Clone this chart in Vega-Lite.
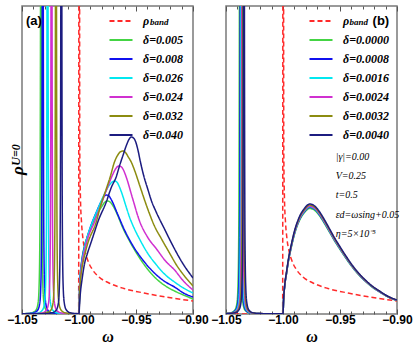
{
"$schema":"https://vega.github.io/schema/vega-lite/v6.json",
"padding":{"left":6,"top":4,"right":0,"bottom":0},
"bounds":"flush",
"spacing":33,
"config":{"view":{"stroke":"#7a7a7a","strokeWidth":1.5},"background":"white"},
"datasets":{
"la":[{"w":-1.0465,"y":293,"t":"(a)"}],
"lb":[{"w":-0.9214,"y":293,"t":"(b)"}],
"sa":[{"w":-0.9378,"y":292,"t":"band"}],
"sb":[{"w":-0.9416,"y":292,"t":"band"}],
"ua":[{"w":-1.0553,"y":159,"t":"U=0"}],
"tb":[{"w":-0.9538,"y":157,"t":"|γ|=0.00"},{"w":-0.9538,"y":138,"t":"V=0.25"},{"w":-0.9538,"y":119,"t":"t=0.5"},{"w":-0.9538,"y":99,"t":"εd=ωsing+0.05"},{"w":-0.9538,"y":80,"t":"η=5×10⁻⁵"}],
"a":[
{"s":"ρband","w":-1.05,"y":0},{"s":"ρband","w":-1.0003,"y":0},{"s":"ρband","w":-0.9999,"y":1000},{"s":"ρband","w":-0.9993,"y":160},{"s":"ρband","w":-0.9987,"y":115},{"s":"ρband","w":-0.9978,"y":92},{"s":"ρband","w":-0.9965,"y":75},{"s":"ρband","w":-0.9947,"y":63},{"s":"ρband","w":-0.9921,"y":53},{"s":"ρband","w":-0.9886,"y":45},{"s":"ρband","w":-0.9825,"y":37},{"s":"ρband","w":-0.9737,"y":31},{"s":"ρband","w":-0.9605,"y":25.5},{"s":"ρband","w":-0.943,"y":21},{"s":"ρband","w":-0.9211,"y":16.5},{"s":"ρband","w":-0.9,"y":13},
{"s":"δ=0.005","w":-1.05,"y":0.2},{"s":"δ=0.005","w":-1.0473,"y":0.4},{"s":"δ=0.005","w":-1.0412,"y":1.2},{"s":"δ=0.005","w":-1.0377,"y":4},{"s":"δ=0.005","w":-1.0359,"y":11},{"s":"δ=0.005","w":-1.0351,"y":25},{"s":"δ=0.005","w":-1.0344,"y":70},{"s":"δ=0.005","w":-1.0338,"y":280},{"s":"δ=0.005","w":-1.0333,"y":1000},{"s":"δ=0.005","w":-1.0328,"y":280},{"s":"δ=0.005","w":-1.0323,"y":70},{"s":"δ=0.005","w":-1.0316,"y":25},{"s":"δ=0.005","w":-1.0307,"y":11},{"s":"δ=0.005","w":-1.0289,"y":4},{"s":"δ=0.005","w":-1.0254,"y":1.2},{"s":"δ=0.005","w":-1.0193,"y":0.4},{"s":"δ=0.005","w":-1.0,"y":0.3},
{"s":"δ=0.005","w":-0.9994,"y":30},{"s":"δ=0.005","w":-0.9987,"y":42},{"s":"δ=0.005","w":-0.9974,"y":55},{"s":"δ=0.005","w":-0.9952,"y":68},{"s":"δ=0.005","w":-0.9925,"y":78},{"s":"δ=0.005","w":-0.989,"y":88},{"s":"δ=0.005","w":-0.9847,"y":99},{"s":"δ=0.005","w":-0.9803,"y":107},{"s":"δ=0.005","w":-0.9776,"y":111.5},{"s":"δ=0.005","w":-0.975,"y":113},{"s":"δ=0.005","w":-0.9728,"y":112},{"s":"δ=0.005","w":-0.9706,"y":109},{"s":"δ=0.005","w":-0.9662,"y":99},{"s":"δ=0.005","w":-0.9619,"y":87},{"s":"δ=0.005","w":-0.9557,"y":73},{"s":"δ=0.005","w":-0.9496,"y":61},{"s":"δ=0.005","w":-0.9426,"y":49},{"s":"δ=0.005","w":-0.932,"y":35},{"s":"δ=0.005","w":-0.9241,"y":28},{"s":"δ=0.005","w":-0.9162,"y":23},{"s":"δ=0.005","w":-0.9084,"y":19},{"s":"δ=0.005","w":-0.9,"y":15},
{"s":"δ=0.008","w":-1.05,"y":0.2},{"s":"δ=0.008","w":-1.0458,"y":0.4},{"s":"δ=0.008","w":-1.0397,"y":1.2},{"s":"δ=0.008","w":-1.0362,"y":4},{"s":"δ=0.008","w":-1.0344,"y":11},{"s":"δ=0.008","w":-1.0336,"y":25},{"s":"δ=0.008","w":-1.0329,"y":70},{"s":"δ=0.008","w":-1.0323,"y":280},{"s":"δ=0.008","w":-1.0318,"y":1000},{"s":"δ=0.008","w":-1.0313,"y":280},{"s":"δ=0.008","w":-1.0308,"y":70},{"s":"δ=0.008","w":-1.0301,"y":25},{"s":"δ=0.008","w":-1.0292,"y":11},{"s":"δ=0.008","w":-1.0274,"y":4},{"s":"δ=0.008","w":-1.0239,"y":1.2},{"s":"δ=0.008","w":-1.0178,"y":0.4},{"s":"δ=0.008","w":-1.0,"y":0.3},
{"s":"δ=0.008","w":-0.9994,"y":29},{"s":"δ=0.008","w":-0.9987,"y":41},{"s":"δ=0.008","w":-0.9974,"y":54},{"s":"δ=0.008","w":-0.9952,"y":67},{"s":"δ=0.008","w":-0.9925,"y":78},{"s":"δ=0.008","w":-0.989,"y":90},{"s":"δ=0.008","w":-0.9847,"y":102},{"s":"δ=0.008","w":-0.9803,"y":113},{"s":"δ=0.008","w":-0.9781,"y":117.5},{"s":"δ=0.008","w":-0.9759,"y":119},{"s":"δ=0.008","w":-0.9737,"y":118},{"s":"δ=0.008","w":-0.9715,"y":114},{"s":"δ=0.008","w":-0.9662,"y":100},{"s":"δ=0.008","w":-0.9601,"y":84},{"s":"δ=0.008","w":-0.9531,"y":69},{"s":"δ=0.008","w":-0.9426,"y":52},{"s":"δ=0.008","w":-0.932,"y":39},{"s":"δ=0.008","w":-0.9241,"y":32},{"s":"δ=0.008","w":-0.9162,"y":27},{"s":"δ=0.008","w":-0.9084,"y":21},{"s":"δ=0.008","w":-0.9,"y":17},
{"s":"δ=0.026","w":-1.05,"y":0.2},{"s":"δ=0.026","w":-1.0416,"y":0.4},{"s":"δ=0.026","w":-1.0355,"y":1.2},{"s":"δ=0.026","w":-1.032,"y":4},{"s":"δ=0.026","w":-1.0302,"y":11},{"s":"δ=0.026","w":-1.0294,"y":25},{"s":"δ=0.026","w":-1.0287,"y":70},{"s":"δ=0.026","w":-1.0281,"y":280},{"s":"δ=0.026","w":-1.0276,"y":1000},{"s":"δ=0.026","w":-1.0271,"y":280},{"s":"δ=0.026","w":-1.0266,"y":70},{"s":"δ=0.026","w":-1.0259,"y":25},{"s":"δ=0.026","w":-1.025,"y":11},{"s":"δ=0.026","w":-1.0232,"y":4},{"s":"δ=0.026","w":-1.0197,"y":1.2},{"s":"δ=0.026","w":-1.0136,"y":0.4},{"s":"δ=0.026","w":-1.0,"y":0.3},
{"s":"δ=0.026","w":-0.9994,"y":27},{"s":"δ=0.026","w":-0.9987,"y":39},{"s":"δ=0.026","w":-0.9974,"y":52},{"s":"δ=0.026","w":-0.9952,"y":66},{"s":"δ=0.026","w":-0.9925,"y":78},{"s":"δ=0.026","w":-0.9882,"y":92},{"s":"δ=0.026","w":-0.9838,"y":104},{"s":"δ=0.026","w":-0.9785,"y":118},{"s":"δ=0.026","w":-0.9733,"y":129},{"s":"δ=0.026","w":-0.9711,"y":131.8},{"s":"δ=0.026","w":-0.9689,"y":133},{"s":"δ=0.026","w":-0.9667,"y":131.8},{"s":"δ=0.026","w":-0.9645,"y":127},{"s":"δ=0.026","w":-0.9619,"y":119},{"s":"δ=0.026","w":-0.9583,"y":106},{"s":"δ=0.026","w":-0.9557,"y":97},{"s":"δ=0.026","w":-0.9513,"y":85},{"s":"δ=0.026","w":-0.9469,"y":75},{"s":"δ=0.026","w":-0.9399,"y":61},{"s":"δ=0.026","w":-0.932,"y":49},{"s":"δ=0.026","w":-0.9241,"y":39},{"s":"δ=0.026","w":-0.9162,"y":32},{"s":"δ=0.026","w":-0.9084,"y":26},{"s":"δ=0.026","w":-0.9,"y":21},
{"s":"δ=0.024","w":-1.05,"y":0.2},{"s":"δ=0.024","w":-1.0381,"y":0.4},{"s":"δ=0.024","w":-1.032,"y":1.2},{"s":"δ=0.024","w":-1.0285,"y":4},{"s":"δ=0.024","w":-1.0267,"y":11},{"s":"δ=0.024","w":-1.0259,"y":25},{"s":"δ=0.024","w":-1.0252,"y":70},{"s":"δ=0.024","w":-1.0246,"y":280},{"s":"δ=0.024","w":-1.0241,"y":1000},{"s":"δ=0.024","w":-1.0236,"y":280},{"s":"δ=0.024","w":-1.0231,"y":70},{"s":"δ=0.024","w":-1.0224,"y":25},{"s":"δ=0.024","w":-1.0215,"y":11},{"s":"δ=0.024","w":-1.0197,"y":4},{"s":"δ=0.024","w":-1.0162,"y":1.2},{"s":"δ=0.024","w":-1.0101,"y":0.4},{"s":"δ=0.024","w":-1.0,"y":0.3},
{"s":"δ=0.024","w":-0.9994,"y":25},{"s":"δ=0.024","w":-0.9987,"y":37},{"s":"δ=0.024","w":-0.9974,"y":50},{"s":"δ=0.024","w":-0.9952,"y":63},{"s":"δ=0.024","w":-0.9925,"y":75},{"s":"δ=0.024","w":-0.9864,"y":92},{"s":"δ=0.024","w":-0.9811,"y":108},{"s":"δ=0.024","w":-0.9759,"y":124},{"s":"δ=0.024","w":-0.9706,"y":139},{"s":"δ=0.024","w":-0.968,"y":145},{"s":"δ=0.024","w":-0.9649,"y":148},{"s":"δ=0.024","w":-0.9627,"y":147},{"s":"δ=0.024","w":-0.961,"y":144},{"s":"δ=0.024","w":-0.9583,"y":136},{"s":"δ=0.024","w":-0.9531,"y":116},{"s":"δ=0.024","w":-0.9469,"y":93},{"s":"δ=0.024","w":-0.9399,"y":77},{"s":"δ=0.024","w":-0.932,"y":65},{"s":"δ=0.024","w":-0.9241,"y":53},{"s":"δ=0.024","w":-0.9162,"y":44},{"s":"δ=0.024","w":-0.9084,"y":33},{"s":"δ=0.024","w":-0.9,"y":24},
{"s":"δ=0.032","w":-1.05,"y":0.2},{"s":"δ=0.032","w":-1.0342,"y":0.4},{"s":"δ=0.032","w":-1.0281,"y":1.2},{"s":"δ=0.032","w":-1.0246,"y":4},{"s":"δ=0.032","w":-1.0228,"y":11},{"s":"δ=0.032","w":-1.022,"y":25},{"s":"δ=0.032","w":-1.0213,"y":70},{"s":"δ=0.032","w":-1.0207,"y":280},{"s":"δ=0.032","w":-1.0202,"y":1000},{"s":"δ=0.032","w":-1.0197,"y":280},{"s":"δ=0.032","w":-1.0192,"y":70},{"s":"δ=0.032","w":-1.0185,"y":25},{"s":"δ=0.032","w":-1.0176,"y":11},{"s":"δ=0.032","w":-1.0158,"y":4},{"s":"δ=0.032","w":-1.0123,"y":1.2},{"s":"δ=0.032","w":-1.0062,"y":0.4},{"s":"δ=0.032","w":-1.0,"y":0.3},
{"s":"δ=0.032","w":-0.9994,"y":22},{"s":"δ=0.032","w":-0.9987,"y":34},{"s":"δ=0.032","w":-0.9974,"y":46},{"s":"δ=0.032","w":-0.9952,"y":58},{"s":"δ=0.032","w":-0.9925,"y":70},{"s":"δ=0.032","w":-0.9849,"y":92},{"s":"δ=0.032","w":-0.9811,"y":108},{"s":"δ=0.032","w":-0.9761,"y":125},{"s":"δ=0.032","w":-0.9724,"y":138},{"s":"δ=0.032","w":-0.9689,"y":152},{"s":"δ=0.032","w":-0.9654,"y":160},{"s":"δ=0.032","w":-0.9636,"y":162.3},{"s":"δ=0.032","w":-0.9614,"y":163},{"s":"δ=0.032","w":-0.9592,"y":161.5},{"s":"δ=0.032","w":-0.957,"y":157.5},{"s":"δ=0.032","w":-0.9542,"y":152},{"s":"δ=0.032","w":-0.9504,"y":141},{"s":"δ=0.032","w":-0.9469,"y":129},{"s":"δ=0.032","w":-0.9397,"y":105},{"s":"δ=0.032","w":-0.9338,"y":88},{"s":"δ=0.032","w":-0.9276,"y":75},{"s":"δ=0.032","w":-0.9206,"y":61},{"s":"δ=0.032","w":-0.9145,"y":49},{"s":"δ=0.032","w":-0.9075,"y":38},{"s":"δ=0.032","w":-0.9,"y":28},
{"s":"δ=0.040","w":-1.05,"y":0.2},{"s":"δ=0.040","w":-1.0295,"y":0.4},{"s":"δ=0.040","w":-1.0234,"y":1.2},{"s":"δ=0.040","w":-1.0199,"y":4},{"s":"δ=0.040","w":-1.0181,"y":11},{"s":"δ=0.040","w":-1.0173,"y":25},{"s":"δ=0.040","w":-1.0166,"y":70},{"s":"δ=0.040","w":-1.016,"y":280},{"s":"δ=0.040","w":-1.0155,"y":1000},{"s":"δ=0.040","w":-1.015,"y":280},{"s":"δ=0.040","w":-1.0145,"y":70},{"s":"δ=0.040","w":-1.0138,"y":25},{"s":"δ=0.040","w":-1.0129,"y":11},{"s":"δ=0.040","w":-1.0111,"y":4},{"s":"δ=0.040","w":-1.0076,"y":1.2},{"s":"δ=0.040","w":-1.0015,"y":0.4},{"s":"δ=0.040","w":-1.0,"y":0.3},
{"s":"δ=0.040","w":-0.9994,"y":12},{"s":"δ=0.040","w":-0.9987,"y":22},{"s":"δ=0.040","w":-0.9974,"y":34},{"s":"δ=0.040","w":-0.9952,"y":50},{"s":"δ=0.040","w":-0.9925,"y":61},{"s":"δ=0.040","w":-0.9893,"y":72},{"s":"δ=0.040","w":-0.9864,"y":82},{"s":"δ=0.040","w":-0.9835,"y":92},{"s":"δ=0.040","w":-0.9761,"y":112},{"s":"δ=0.040","w":-0.9715,"y":127},{"s":"δ=0.040","w":-0.9674,"y":137},{"s":"δ=0.040","w":-0.9645,"y":148},{"s":"δ=0.040","w":-0.9616,"y":158},{"s":"δ=0.040","w":-0.9583,"y":169},{"s":"δ=0.040","w":-0.9562,"y":174.5},{"s":"δ=0.040","w":-0.9542,"y":177},{"s":"δ=0.040","w":-0.9522,"y":176},{"s":"δ=0.040","w":-0.9504,"y":172.5},{"s":"δ=0.040","w":-0.9483,"y":164},{"s":"δ=0.040","w":-0.9461,"y":152},{"s":"δ=0.040","w":-0.9434,"y":139},{"s":"δ=0.040","w":-0.9397,"y":125},{"s":"δ=0.040","w":-0.9364,"y":113},{"s":"δ=0.040","w":-0.9323,"y":102},{"s":"δ=0.040","w":-0.925,"y":85},{"s":"δ=0.040","w":-0.918,"y":69},{"s":"δ=0.040","w":-0.9092,"y":51},{"s":"δ=0.040","w":-0.9,"y":36}
],
"b":[
{"s":"ρband","w":-1.05,"y":0},{"s":"ρband","w":-1.0003,"y":0},{"s":"ρband","w":-0.9999,"y":1000},{"s":"ρband","w":-0.9993,"y":160},{"s":"ρband","w":-0.9987,"y":115},{"s":"ρband","w":-0.9978,"y":92},{"s":"ρband","w":-0.9965,"y":75},{"s":"ρband","w":-0.9947,"y":63},{"s":"ρband","w":-0.9921,"y":53},{"s":"ρband","w":-0.9886,"y":45},{"s":"ρband","w":-0.9825,"y":37},{"s":"ρband","w":-0.9737,"y":31},{"s":"ρband","w":-0.9605,"y":25.5},{"s":"ρband","w":-0.943,"y":21},{"s":"ρband","w":-0.9211,"y":16.5},{"s":"ρband","w":-0.9,"y":13},
{"s":"δ=0.0000","w":-1.05,"y":0.4},{"s":"δ=0.0000","w":-1.0457,"y":1.2},{"s":"δ=0.0000","w":-1.0422,"y":4},{"s":"δ=0.0000","w":-1.0404,"y":11},{"s":"δ=0.0000","w":-1.0396,"y":25},{"s":"δ=0.0000","w":-1.0389,"y":70},{"s":"δ=0.0000","w":-1.0383,"y":280},{"s":"δ=0.0000","w":-1.0378,"y":1000},{"s":"δ=0.0000","w":-1.0373,"y":280},{"s":"δ=0.0000","w":-1.0368,"y":70},{"s":"δ=0.0000","w":-1.0361,"y":25},{"s":"δ=0.0000","w":-1.0352,"y":11},{"s":"δ=0.0000","w":-1.0334,"y":4},{"s":"δ=0.0000","w":-1.0299,"y":1.2},{"s":"δ=0.0000","w":-1.0238,"y":0.4},{"s":"δ=0.0000","w":-1.0,"y":0.3},
{"s":"δ=0.0000","w":-0.9995,"y":13.4},{"s":"δ=0.0000","w":-0.9984,"y":28.8},{"s":"δ=0.0000","w":-0.9969,"y":40.3},{"s":"δ=0.0000","w":-0.9955,"y":50.9},{"s":"δ=0.0000","w":-0.9926,"y":67.2},{"s":"δ=0.0000","w":-0.9897,"y":80.6},{"s":"δ=0.0000","w":-0.9853,"y":94.1},{"s":"δ=0.0000","w":-0.9809,"y":101.8},{"s":"δ=0.0000","w":-0.9766,"y":105.6},{"s":"δ=0.0000","w":-0.9722,"y":103.7},{"s":"δ=0.0000","w":-0.9678,"y":97.9},{"s":"δ=0.0000","w":-0.9635,"y":90.2},{"s":"δ=0.0000","w":-0.9591,"y":81.6},{"s":"δ=0.0000","w":-0.9547,"y":73},{"s":"δ=0.0000","w":-0.9504,"y":65.3},{"s":"δ=0.0000","w":-0.9442,"y":54.7},{"s":"δ=0.0000","w":-0.9387,"y":46.1},{"s":"δ=0.0000","w":-0.9329,"y":38.4},{"s":"δ=0.0000","w":-0.9268,"y":31.7},{"s":"δ=0.0000","w":-0.9206,"y":25.9},{"s":"δ=0.0000","w":-0.9154,"y":22.1},{"s":"δ=0.0000","w":-0.9084,"y":17.3},{"s":"δ=0.0000","w":-0.9,"y":13.4},
{"s":"δ=0.0008","w":-1.05,"y":0.35},{"s":"δ=0.0008","w":-1.045,"y":1.2},{"s":"δ=0.0008","w":-1.0415,"y":4},{"s":"δ=0.0008","w":-1.0397,"y":11},{"s":"δ=0.0008","w":-1.0389,"y":25},{"s":"δ=0.0008","w":-1.0382,"y":70},{"s":"δ=0.0008","w":-1.0376,"y":280},{"s":"δ=0.0008","w":-1.0371,"y":1000},{"s":"δ=0.0008","w":-1.0366,"y":280},{"s":"δ=0.0008","w":-1.0361,"y":70},{"s":"δ=0.0008","w":-1.0354,"y":25},{"s":"δ=0.0008","w":-1.0345,"y":11},{"s":"δ=0.0008","w":-1.0327,"y":4},{"s":"δ=0.0008","w":-1.0292,"y":1.2},{"s":"δ=0.0008","w":-1.0231,"y":0.4},{"s":"δ=0.0008","w":-1.0,"y":0.3},
{"s":"δ=0.0008","w":-0.9995,"y":13.6},{"s":"δ=0.0008","w":-0.9984,"y":29.1},{"s":"δ=0.0008","w":-0.9969,"y":40.7},{"s":"δ=0.0008","w":-0.9955,"y":51.4},{"s":"δ=0.0008","w":-0.9926,"y":67.9},{"s":"δ=0.0008","w":-0.9897,"y":81.5},{"s":"δ=0.0008","w":-0.9853,"y":95.1},{"s":"δ=0.0008","w":-0.9809,"y":102.8},{"s":"δ=0.0008","w":-0.9766,"y":106.7},{"s":"δ=0.0008","w":-0.9722,"y":104.8},{"s":"δ=0.0008","w":-0.9678,"y":98.9},{"s":"δ=0.0008","w":-0.9635,"y":91.2},{"s":"δ=0.0008","w":-0.9591,"y":82.5},{"s":"δ=0.0008","w":-0.9547,"y":73.7},{"s":"δ=0.0008","w":-0.9504,"y":66},{"s":"δ=0.0008","w":-0.9442,"y":55.3},{"s":"δ=0.0008","w":-0.9387,"y":46.6},{"s":"δ=0.0008","w":-0.9329,"y":38.8},{"s":"δ=0.0008","w":-0.9268,"y":32},{"s":"δ=0.0008","w":-0.9206,"y":26.2},{"s":"δ=0.0008","w":-0.9154,"y":22.3},{"s":"δ=0.0008","w":-0.9084,"y":17.5},{"s":"δ=0.0008","w":-0.9,"y":13.6},
{"s":"δ=0.0016","w":-1.05,"y":0.35},{"s":"δ=0.0016","w":-1.0443,"y":1.2},{"s":"δ=0.0016","w":-1.0408,"y":4},{"s":"δ=0.0016","w":-1.039,"y":11},{"s":"δ=0.0016","w":-1.0382,"y":25},{"s":"δ=0.0016","w":-1.0375,"y":70},{"s":"δ=0.0016","w":-1.0369,"y":280},{"s":"δ=0.0016","w":-1.0364,"y":1000},{"s":"δ=0.0016","w":-1.0359,"y":280},{"s":"δ=0.0016","w":-1.0354,"y":70},{"s":"δ=0.0016","w":-1.0347,"y":25},{"s":"δ=0.0016","w":-1.0338,"y":11},{"s":"δ=0.0016","w":-1.032,"y":4},{"s":"δ=0.0016","w":-1.0285,"y":1.2},{"s":"δ=0.0016","w":-1.0224,"y":0.4},{"s":"δ=0.0016","w":-1.0,"y":0.3},
{"s":"δ=0.0016","w":-0.9995,"y":13.7},{"s":"δ=0.0016","w":-0.9984,"y":29.3},{"s":"δ=0.0016","w":-0.9969,"y":41},{"s":"δ=0.0016","w":-0.9955,"y":51.7},{"s":"δ=0.0016","w":-0.9926,"y":68.3},{"s":"δ=0.0016","w":-0.9897,"y":81.9},{"s":"δ=0.0016","w":-0.9853,"y":95.6},{"s":"δ=0.0016","w":-0.9809,"y":103.4},{"s":"δ=0.0016","w":-0.9766,"y":107.3},{"s":"δ=0.0016","w":-0.9722,"y":105.3},{"s":"δ=0.0016","w":-0.9678,"y":99.5},{"s":"δ=0.0016","w":-0.9635,"y":91.7},{"s":"δ=0.0016","w":-0.9591,"y":82.9},{"s":"δ=0.0016","w":-0.9547,"y":74.1},{"s":"δ=0.0016","w":-0.9504,"y":66.3},{"s":"δ=0.0016","w":-0.9442,"y":55.6},{"s":"δ=0.0016","w":-0.9387,"y":46.8},{"s":"δ=0.0016","w":-0.9329,"y":39},{"s":"δ=0.0016","w":-0.9268,"y":32.2},{"s":"δ=0.0016","w":-0.9206,"y":26.3},{"s":"δ=0.0016","w":-0.9154,"y":22.4},{"s":"δ=0.0016","w":-0.9084,"y":17.6},{"s":"δ=0.0016","w":-0.9,"y":13.7},
{"s":"δ=0.0024","w":-1.05,"y":0.35},{"s":"δ=0.0024","w":-1.0436,"y":1.2},{"s":"δ=0.0024","w":-1.0401,"y":4},{"s":"δ=0.0024","w":-1.0383,"y":11},{"s":"δ=0.0024","w":-1.0375,"y":25},{"s":"δ=0.0024","w":-1.0368,"y":70},{"s":"δ=0.0024","w":-1.0362,"y":280},{"s":"δ=0.0024","w":-1.0357,"y":1000},{"s":"δ=0.0024","w":-1.0352,"y":280},{"s":"δ=0.0024","w":-1.0347,"y":70},{"s":"δ=0.0024","w":-1.034,"y":25},{"s":"δ=0.0024","w":-1.0331,"y":11},{"s":"δ=0.0024","w":-1.0313,"y":4},{"s":"δ=0.0024","w":-1.0278,"y":1.2},{"s":"δ=0.0024","w":-1.0217,"y":0.4},{"s":"δ=0.0024","w":-1.0,"y":0.3},
{"s":"δ=0.0024","w":-0.9995,"y":13.7},{"s":"δ=0.0024","w":-0.9984,"y":29.4},{"s":"δ=0.0024","w":-0.9969,"y":41.2},{"s":"δ=0.0024","w":-0.9955,"y":51.9},{"s":"δ=0.0024","w":-0.9926,"y":68.6},{"s":"δ=0.0024","w":-0.9897,"y":82.3},{"s":"δ=0.0024","w":-0.9853,"y":96},{"s":"δ=0.0024","w":-0.9809,"y":103.9},{"s":"δ=0.0024","w":-0.9766,"y":107.8},{"s":"δ=0.0024","w":-0.9722,"y":105.8},{"s":"δ=0.0024","w":-0.9678,"y":100},{"s":"δ=0.0024","w":-0.9635,"y":92.1},{"s":"δ=0.0024","w":-0.9591,"y":83.3},{"s":"δ=0.0024","w":-0.9547,"y":74.5},{"s":"δ=0.0024","w":-0.9504,"y":66.6},{"s":"δ=0.0024","w":-0.9442,"y":55.9},{"s":"δ=0.0024","w":-0.9387,"y":47},{"s":"δ=0.0024","w":-0.9329,"y":39.2},{"s":"δ=0.0024","w":-0.9268,"y":32.3},{"s":"δ=0.0024","w":-0.9206,"y":26.5},{"s":"δ=0.0024","w":-0.9154,"y":22.5},{"s":"δ=0.0024","w":-0.9084,"y":17.6},{"s":"δ=0.0024","w":-0.9,"y":13.7},
{"s":"δ=0.0032","w":-1.05,"y":0.35},{"s":"δ=0.0032","w":-1.0429,"y":1.2},{"s":"δ=0.0032","w":-1.0394,"y":4},{"s":"δ=0.0032","w":-1.0376,"y":11},{"s":"δ=0.0032","w":-1.0368,"y":25},{"s":"δ=0.0032","w":-1.0361,"y":70},{"s":"δ=0.0032","w":-1.0355,"y":280},{"s":"δ=0.0032","w":-1.035,"y":1000},{"s":"δ=0.0032","w":-1.0345,"y":280},{"s":"δ=0.0032","w":-1.034,"y":70},{"s":"δ=0.0032","w":-1.0333,"y":25},{"s":"δ=0.0032","w":-1.0324,"y":11},{"s":"δ=0.0032","w":-1.0306,"y":4},{"s":"δ=0.0032","w":-1.0271,"y":1.2},{"s":"δ=0.0032","w":-1.021,"y":0.4},{"s":"δ=0.0032","w":-1.0,"y":0.3},
{"s":"δ=0.0032","w":-0.9995,"y":13.9},{"s":"δ=0.0032","w":-0.9984,"y":29.7},{"s":"δ=0.0032","w":-0.9969,"y":41.6},{"s":"δ=0.0032","w":-0.9955,"y":52.5},{"s":"δ=0.0032","w":-0.9926,"y":69.3},{"s":"δ=0.0032","w":-0.9897,"y":83.2},{"s":"δ=0.0032","w":-0.9853,"y":97},{"s":"δ=0.0032","w":-0.9809,"y":104.9},{"s":"δ=0.0032","w":-0.9766,"y":108.9},{"s":"δ=0.0032","w":-0.9722,"y":106.9},{"s":"δ=0.0032","w":-0.9678,"y":101},{"s":"δ=0.0032","w":-0.9635,"y":93.1},{"s":"δ=0.0032","w":-0.9591,"y":84.2},{"s":"δ=0.0032","w":-0.9547,"y":75.2},{"s":"δ=0.0032","w":-0.9504,"y":67.3},{"s":"δ=0.0032","w":-0.9442,"y":56.4},{"s":"δ=0.0032","w":-0.9387,"y":47.5},{"s":"δ=0.0032","w":-0.9329,"y":39.6},{"s":"δ=0.0032","w":-0.9268,"y":32.7},{"s":"δ=0.0032","w":-0.9206,"y":26.7},{"s":"δ=0.0032","w":-0.9154,"y":22.8},{"s":"δ=0.0032","w":-0.9084,"y":17.8},{"s":"δ=0.0032","w":-0.9,"y":13.9},
{"s":"δ=0.0040","w":-1.05,"y":0.35},{"s":"δ=0.0040","w":-1.0422,"y":1.2},{"s":"δ=0.0040","w":-1.0387,"y":4},{"s":"δ=0.0040","w":-1.0369,"y":11},{"s":"δ=0.0040","w":-1.0361,"y":25},{"s":"δ=0.0040","w":-1.0354,"y":70},{"s":"δ=0.0040","w":-1.0348,"y":280},{"s":"δ=0.0040","w":-1.0343,"y":1000},{"s":"δ=0.0040","w":-1.0338,"y":280},{"s":"δ=0.0040","w":-1.0333,"y":70},{"s":"δ=0.0040","w":-1.0326,"y":25},{"s":"δ=0.0040","w":-1.0317,"y":11},{"s":"δ=0.0040","w":-1.0299,"y":4},{"s":"δ=0.0040","w":-1.0264,"y":1.2},{"s":"δ=0.0040","w":-1.0203,"y":0.4},{"s":"δ=0.0040","w":-1.0,"y":0.3},
{"s":"δ=0.0040","w":-0.9995,"y":14},{"s":"δ=0.0040","w":-0.9984,"y":30},{"s":"δ=0.0040","w":-0.9969,"y":42},{"s":"δ=0.0040","w":-0.9955,"y":53},{"s":"δ=0.0040","w":-0.9926,"y":70},{"s":"δ=0.0040","w":-0.9897,"y":84},{"s":"δ=0.0040","w":-0.9853,"y":98},{"s":"δ=0.0040","w":-0.9809,"y":106},{"s":"δ=0.0040","w":-0.9766,"y":110},{"s":"δ=0.0040","w":-0.9722,"y":108},{"s":"δ=0.0040","w":-0.9678,"y":102},{"s":"δ=0.0040","w":-0.9635,"y":94},{"s":"δ=0.0040","w":-0.9591,"y":85},{"s":"δ=0.0040","w":-0.9547,"y":76},{"s":"δ=0.0040","w":-0.9504,"y":68},{"s":"δ=0.0040","w":-0.9442,"y":57},{"s":"δ=0.0040","w":-0.9387,"y":48},{"s":"δ=0.0040","w":-0.9329,"y":40},{"s":"δ=0.0040","w":-0.9268,"y":33},{"s":"δ=0.0040","w":-0.9206,"y":27},{"s":"δ=0.0040","w":-0.9154,"y":23},{"s":"δ=0.0040","w":-0.9084,"y":18},{"s":"δ=0.0040","w":-0.9,"y":14}
]
},
"hconcat":[
{
"width":171,"height":308,
"resolve":{"axis":{"x":"independent"}},
"layer":[
{"data":{"name":"a"},
 "mark":{"type":"line","interpolate":"monotone","strokeWidth":1.5,"clip":true},
 "encoding":{
  "x":{"field":"w","type":"quantitative","scale":{"domain":[-1.05,-0.9],"nice":false,"zero":false},
   "axis":{"orient":"bottom","values":[-1.05,-1,-0.95,-0.9],"format":".2f","tickSize":-5,"tickColor":"#555","labelPadding":5,"labelFont":"Liberation Sans","labelFontWeight":"bold","labelFontSize":12,"labelColor":"#000","labelFlush":false,"labelOverlap":false,"domain":false,"grid":false,"title":"ω","titleFont":"Liberation Serif","titleFontStyle":"italic","titleFontWeight":"bold","titleFontSize":16,"titleColor":"#000","titlePadding":3}},
  "y":{"field":"y","type":"quantitative","scale":{"domain":[0,308],"nice":false},
   "axis":{"title":"ρ","labels":false,"ticks":false,"domain":false,"grid":false,"titleFont":"Liberation Serif","titleFontStyle":"italic","titleFontWeight":"bold","titleFontSize":17,"titleColor":"#000","titleX":-5,"titleY":164,"titleAngle":270,"titleAlign":"center","titleBaseline":"middle"}},
  "color":{"field":"s","type":"nominal","scale":{"domain":["ρband","δ=0.005","δ=0.008","δ=0.026","δ=0.024","δ=0.032","δ=0.040"],"range":["#ff2a2a","#44d444","#1010ee","#00e8f0","#d030d0","#8c8c10","#1c1c80"]},
   "legend":{"orient":"none","legendX":86,"legendY":2,"title":null,"symbolType":"stroke","symbolSize":530,"symbolStrokeWidth":2,"labelExpr":"datum.label == 'ρband' ? 'ρ' : datum.label","labelFont":"Liberation Serif","labelFontStyle":"italic","labelFontWeight":"bold","labelFontSize":12,"labelColor":"#000","labelOffset":9,"rowPadding":-9,"padding":0}},
  "strokeDash":{"field":"s","type":"nominal","scale":{"domain":["ρband","δ=0.005","δ=0.008","δ=0.026","δ=0.024","δ=0.032","δ=0.040"],"range":[[5,3],[1,0],[1,0],[1,0],[1,0],[1,0],[1,0]]},
   "legend":{"orient":"none","legendX":86,"legendY":2,"title":null,"symbolType":"stroke","symbolSize":530,"symbolStrokeWidth":2,"labelExpr":"datum.label == 'ρband' ? 'ρ' : datum.label","labelFont":"Liberation Serif","labelFontStyle":"italic","labelFontWeight":"bold","labelFontSize":12,"labelColor":"#000","labelOffset":9,"rowPadding":-9,"padding":0}}
 }},
{"data":{"name":"la"},
 "mark":{"type":"text","font":"Liberation Sans","fontWeight":"bold","fontSize":13,"align":"left","baseline":"middle"},
 "encoding":{
  "x":{"field":"w","type":"quantitative","scale":{"domain":[-1.05,-0.9],"nice":false,"zero":false},
   "axis":{"orient":"top","values":[-1.05,-1,-0.95,-0.9],"tickSize":-5,"tickColor":"#555","labels":false,"domain":false,"grid":false,"title":null}},
  "y":{"field":"y","type":"quantitative","scale":{"domain":[0,308],"nice":false}},
  "text":{"field":"t"}}},
{"data":{"name":"sa"},
 "mark":{"type":"text","font":"Liberation Serif","fontStyle":"italic","fontWeight":"bold","fontSize":9,"align":"left","baseline":"middle"},
 "encoding":{
  "x":{"field":"w","type":"quantitative","scale":{"domain":[-1.05,-0.9],"nice":false,"zero":false},
   "axis":{"orient":"bottom","values":[-1.04,-1.03,-1.02,-1.01,-0.99,-0.98,-0.97,-0.96,-0.94,-0.93,-0.92,-0.91],"tickSize":-3,"tickColor":"#555","labels":false,"domain":false,"grid":false,"title":null}},
  "y":{"field":"y","type":"quantitative","scale":{"domain":[0,308],"nice":false}},
  "text":{"field":"t"}}},
{"data":{"name":"ua"},
 "mark":{"type":"text","font":"Liberation Serif","fontStyle":"italic","fontWeight":"bold","fontSize":12,"align":"center","baseline":"middle","angle":270},
 "encoding":{
  "x":{"field":"w","type":"quantitative","scale":{"domain":[-1.05,-0.9],"nice":false,"zero":false},
   "axis":{"orient":"top","values":[-1.04,-1.03,-1.02,-1.01,-0.99,-0.98,-0.97,-0.96,-0.94,-0.93,-0.92,-0.91],"tickSize":-3,"tickColor":"#555","labels":false,"domain":false,"grid":false,"title":null}},
  "y":{"field":"y","type":"quantitative","scale":{"domain":[0,308],"nice":false}},
  "text":{"field":"t"}}}
]
},
{
"width":171,"height":308,
"resolve":{"axis":{"x":"independent"}},
"layer":[
{"data":{"name":"b"},
 "mark":{"type":"line","interpolate":"monotone","strokeWidth":1.5,"clip":true},
 "encoding":{
  "x":{"field":"w","type":"quantitative","scale":{"domain":[-1.05,-0.9],"nice":false,"zero":false},
   "axis":{"orient":"bottom","values":[-1.05,-1,-0.95,-0.9],"format":".2f","tickSize":-5,"tickColor":"#555","labelPadding":5,"labelFont":"Liberation Sans","labelFontWeight":"bold","labelFontSize":12,"labelColor":"#000","labelFlush":false,"labelOverlap":false,"domain":false,"grid":false,"title":"ω","titleFont":"Liberation Serif","titleFontStyle":"italic","titleFontWeight":"bold","titleFontSize":16,"titleColor":"#000","titlePadding":3}},
  "y":{"field":"y","type":"quantitative","scale":{"domain":[0,308],"nice":false},"axis":null},
  "color":{"field":"s","type":"nominal","scale":{"domain":["ρband","δ=0.0000","δ=0.0008","δ=0.0016","δ=0.0024","δ=0.0032","δ=0.0040"],"range":["#ff2a2a","#44d444","#1010ee","#00e8f0","#d030d0","#8c8c10","#1c1c80"]},
   "legend":{"orient":"none","legendX":82,"legendY":2,"title":null,"symbolType":"stroke","symbolSize":530,"symbolStrokeWidth":2,"labelExpr":"datum.label == 'ρband' ? 'ρ' : datum.label","labelFont":"Liberation Serif","labelFontStyle":"italic","labelFontWeight":"bold","labelFontSize":12,"labelColor":"#000","labelOffset":9,"rowPadding":-9,"padding":0}},
  "strokeDash":{"field":"s","type":"nominal","scale":{"domain":["ρband","δ=0.0000","δ=0.0008","δ=0.0016","δ=0.0024","δ=0.0032","δ=0.0040"],"range":[[5,3],[1,0],[1,0],[1,0],[1,0],[1,0],[1,0]]},
   "legend":{"orient":"none","legendX":82,"legendY":2,"title":null,"symbolType":"stroke","symbolSize":530,"symbolStrokeWidth":2,"labelExpr":"datum.label == 'ρband' ? 'ρ' : datum.label","labelFont":"Liberation Serif","labelFontStyle":"italic","labelFontWeight":"bold","labelFontSize":12,"labelColor":"#000","labelOffset":9,"rowPadding":-9,"padding":0}}
 }},
{"data":{"name":"lb"},
 "mark":{"type":"text","font":"Liberation Sans","fontWeight":"bold","fontSize":13,"align":"left","baseline":"middle"},
 "encoding":{
  "x":{"field":"w","type":"quantitative","scale":{"domain":[-1.05,-0.9],"nice":false,"zero":false},
   "axis":{"orient":"top","values":[-1.05,-1,-0.95,-0.9],"tickSize":-5,"tickColor":"#555","labels":false,"domain":false,"grid":false,"title":null}},
  "y":{"field":"y","type":"quantitative","scale":{"domain":[0,308],"nice":false},"axis":null},
  "text":{"field":"t"}}},
{"data":{"name":"tb"},
 "mark":{"type":"text","font":"Liberation Serif","fontStyle":"italic","fontSize":10,"align":"left","baseline":"middle"},
 "encoding":{
  "x":{"field":"w","type":"quantitative","scale":{"domain":[-1.05,-0.9],"nice":false,"zero":false},
   "axis":{"orient":"bottom","values":[-1.04,-1.03,-1.02,-1.01,-0.99,-0.98,-0.97,-0.96,-0.94,-0.93,-0.92,-0.91],"tickSize":-3,"tickColor":"#555","labels":false,"domain":false,"grid":false,"title":null}},
  "y":{"field":"y","type":"quantitative","scale":{"domain":[0,308],"nice":false},"axis":null},
  "text":{"field":"t"}}},
{"data":{"name":"sb"},
 "mark":{"type":"text","font":"Liberation Serif","fontStyle":"italic","fontWeight":"bold","fontSize":9,"align":"left","baseline":"middle"},
 "encoding":{
  "x":{"field":"w","type":"quantitative","scale":{"domain":[-1.05,-0.9],"nice":false,"zero":false},
   "axis":{"orient":"top","values":[-1.04,-1.03,-1.02,-1.01,-0.99,-0.98,-0.97,-0.96,-0.94,-0.93,-0.92,-0.91],"tickSize":-3,"tickColor":"#555","labels":false,"domain":false,"grid":false,"title":null}},
  "y":{"field":"y","type":"quantitative","scale":{"domain":[0,308],"nice":false},"axis":null},
  "text":{"field":"t"}}}
]
}
],
"resolve":{"scale":{"color":"independent","strokeDash":"independent"},"legend":{"color":"independent","strokeDash":"independent"}}
}
